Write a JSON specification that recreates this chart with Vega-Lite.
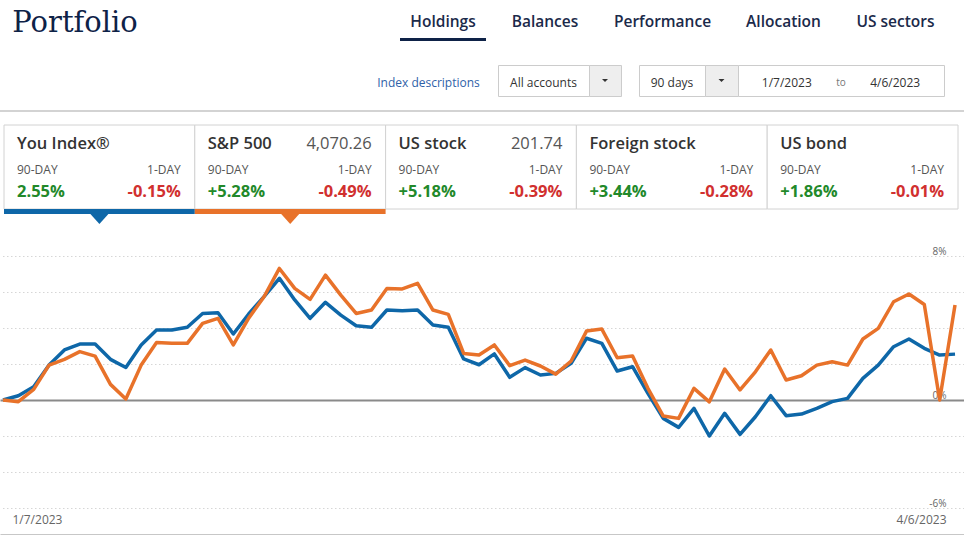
{
  "$schema": "https://vega.github.io/schema/vega-lite/v6.json",
  "padding": 0,
  "background": "white",
  "autosize": {"type": "pad"},
  "spacing": 0,
  "config": {
    "view": {"stroke": null},
    "concat": {"spacing": 0},
    "font": "Open Sans",
    "text": {"font": "Open Sans"},
    "axis": {"labelFont": "Open Sans"}
  },
  "datasets": {
    "cards": [
      {"card": "You Index®", "price": "", "d90": "2.55%", "d1": "-0.15%"},
      {"card": "S&P 500", "price": "4,070.26", "d90": "+5.28%", "d1": "-0.49%"},
      {"card": "US stock", "price": "201.74", "d90": "+5.18%", "d1": "-0.39%"},
      {"card": "Foreign stock", "price": "", "d90": "+3.44%", "d1": "-0.28%"},
      {"card": "US bond", "price": "", "d90": "+1.86%", "d1": "-0.01%"}
    ],
    "perf": [
      {"date": "1/7/2023", "you": 0, "sp": 0},
      {"date": "1/9/2023", "you": 0.24, "sp": -0.09},
      {"date": "1/10/2023", "you": 0.74, "sp": 0.59},
      {"date": "1/11/2023", "you": 1.94, "sp": 1.94},
      {"date": "1/12/2023", "you": 2.78, "sp": 2.26},
      {"date": "1/13/2023", "you": 3.11, "sp": 2.69},
      {"date": "1/17/2023", "you": 3.11, "sp": 2.44},
      {"date": "1/18/2023", "you": 2.26, "sp": 0.87},
      {"date": "1/19/2023", "you": 1.81, "sp": 0.06},
      {"date": "1/20/2023", "you": 3.06, "sp": 1.94},
      {"date": "1/23/2023", "you": 3.89, "sp": 3.19},
      {"date": "1/24/2023", "you": 3.89, "sp": 3.15},
      {"date": "1/25/2023", "you": 4.04, "sp": 3.15},
      {"date": "1/26/2023", "you": 4.81, "sp": 4.26},
      {"date": "1/27/2023", "you": 4.85, "sp": 4.54},
      {"date": "1/30/2023", "you": 3.67, "sp": 3.06},
      {"date": "1/31/2023", "you": 4.78, "sp": 4.55},
      {"date": "2/1/2023", "you": 5.74, "sp": 5.74},
      {"date": "2/2/2023", "you": 6.76, "sp": 7.31},
      {"date": "2/3/2023", "you": 5.56, "sp": 6.2},
      {"date": "2/6/2023", "you": 4.54, "sp": 5.59},
      {"date": "2/7/2023", "you": 5.43, "sp": 6.94},
      {"date": "2/8/2023", "you": 4.72, "sp": 5.83},
      {"date": "2/9/2023", "you": 4.13, "sp": 4.81},
      {"date": "2/10/2023", "you": 4.04, "sp": 5.0},
      {"date": "2/13/2023", "you": 5.0, "sp": 6.2},
      {"date": "2/14/2023", "you": 4.96, "sp": 6.17},
      {"date": "2/15/2023", "you": 5.0, "sp": 6.48},
      {"date": "2/16/2023", "you": 4.17, "sp": 5.0},
      {"date": "2/17/2023", "you": 4.04, "sp": 4.76},
      {"date": "2/21/2023", "you": 2.28, "sp": 2.59},
      {"date": "2/22/2023", "you": 1.96, "sp": 2.5},
      {"date": "2/23/2023", "you": 2.56, "sp": 3.06},
      {"date": "2/24/2023", "you": 1.26, "sp": 1.91},
      {"date": "2/27/2023", "you": 1.8, "sp": 2.22},
      {"date": "2/28/2023", "you": 1.39, "sp": 1.89},
      {"date": "3/1/2023", "you": 1.48, "sp": 1.44},
      {"date": "3/2/2023", "you": 2.04, "sp": 2.17},
      {"date": "3/3/2023", "you": 3.43, "sp": 3.83},
      {"date": "3/6/2023", "you": 3.15, "sp": 3.94},
      {"date": "3/7/2023", "you": 1.61, "sp": 2.35},
      {"date": "3/8/2023", "you": 1.85, "sp": 2.44},
      {"date": "3/9/2023", "you": 0.37, "sp": 0.65},
      {"date": "3/10/2023", "you": -1.02, "sp": -0.89},
      {"date": "3/13/2023", "you": -1.52, "sp": -1.02},
      {"date": "3/14/2023", "you": -0.46, "sp": 0.65},
      {"date": "3/15/2023", "you": -2.0, "sp": -0.1},
      {"date": "3/16/2023", "you": -0.74, "sp": 1.72},
      {"date": "3/17/2023", "you": -1.91, "sp": 0.56},
      {"date": "3/20/2023", "you": -0.93, "sp": 1.57},
      {"date": "3/21/2023", "you": 0.24, "sp": 2.78},
      {"date": "3/22/2023", "you": -0.87, "sp": 1.11},
      {"date": "3/23/2023", "you": -0.78, "sp": 1.35},
      {"date": "3/24/2023", "you": -0.46, "sp": 1.94},
      {"date": "3/27/2023", "you": -0.09, "sp": 2.13},
      {"date": "3/28/2023", "you": 0.09, "sp": 1.94},
      {"date": "3/29/2023", "you": 1.2, "sp": 3.39},
      {"date": "3/30/2023", "you": 1.94, "sp": 3.98},
      {"date": "3/31/2023", "you": 2.96, "sp": 5.46},
      {"date": "4/3/2023", "you": 3.39, "sp": 5.89},
      {"date": "4/4/2023", "you": 2.87, "sp": 5.31},
      {"date": "4/5/2023", "you": 2.5, "sp": 0},
      {"date": "4/6/2023", "you": 2.55, "sp": 5.28}
    ]
  },
  "vconcat": [
    {
      "spacing": 0, "bounds": "flush",
      "hconcat": [
        {"width": 150, "height": 38, "data": {"values": [{"t": "Portfolio"}]}, "mark": {"type": "text", "font": "DejaVu Serif", "fontSize": 29, "color": "#0e2247", "dy": 4}, "encoding": {"text": {"field": "t"}}},
        {"width": 250, "height": 38, "data": {"values": []}, "mark": "text", "encoding": {}},
        {"width": 86, "height": 38, "data": {"values": [{"t": "Holdings"}]}, "mark": {"type": "text", "fontSize": 15.5, "fontWeight": 600, "color": "#1b2a4a", "dy": 3}, "encoding": {"text": {"field": "t"}}},
        {"width": 118, "height": 38, "data": {"values": [{"t": "Balances"}]}, "mark": {"type": "text", "fontSize": 15.5, "fontWeight": 600, "color": "#1b2a4a", "dy": 3}, "encoding": {"text": {"field": "t"}}},
        {"width": 117, "height": 38, "data": {"values": [{"t": "Performance"}]}, "mark": {"type": "text", "fontSize": 15.5, "fontWeight": 600, "color": "#1b2a4a", "dy": 3}, "encoding": {"text": {"field": "t"}}},
        {"width": 125, "height": 38, "data": {"values": [{"t": "Allocation"}]}, "mark": {"type": "text", "fontSize": 15.5, "fontWeight": 600, "color": "#1b2a4a", "dy": 3}, "encoding": {"text": {"field": "t"}}},
        {"width": 99, "height": 38, "data": {"values": [{"t": "US sectors"}]}, "mark": {"type": "text", "fontSize": 15.5, "fontWeight": 600, "color": "#1b2a4a", "dy": 3}, "encoding": {"text": {"field": "t"}}}
      ]
    },
    {
      "spacing": 0, "bounds": "flush",
      "hconcat": [
        {"width": 400, "height": 3, "data": {"values": []}, "mark": "text", "encoding": {}},
        {"width": 86, "height": 3, "view": {"fill": "#0e2247", "stroke": null}, "data": {"values": []}, "mark": "text", "encoding": {}}
      ]
    },
    {"width": 964, "height": 23, "data": {"values": []}, "mark": "text", "encoding": {}},
    {
      "spacing": 0, "bounds": "flush",
      "hconcat": [
        {"width": 377, "height": 31, "data": {"values": []}, "mark": "text", "encoding": {}},
        {"width": 103, "height": 31, "data": {"values": [{"t": "Index descriptions"}]}, "mark": {"type": "text", "fontSize": 12, "color": "#2f62a8", "dy": 2}, "encoding": {"text": {"field": "t"}}},
        {"width": 18, "height": 31, "data": {"values": []}, "mark": "text", "encoding": {}},
        {"width": 91, "height": 31, "view": {"stroke": "#cccccc", "fill": "white"}, "data": {"values": [{"t": "All accounts"}]}, "mark": {"type": "text", "fontSize": 12, "color": "#333333", "dy": 2}, "encoding": {"text": {"field": "t"}}},
        {"width": 32, "height": 31, "view": {"stroke": "#cccccc", "fill": "#eeeeee"}, "data": {"values": [{"t": "v"}]}, "mark": {"type": "point", "shape": "M-1,-0.5L1,-0.5L0,0.5Z", "filled": true, "color": "#333333", "size": 36, "opacity": 1, "strokeWidth": 0}, "encoding": {}},
        {"width": 18, "height": 31, "data": {"values": []}, "mark": "text", "encoding": {}},
        {"width": 66, "height": 31, "view": {"stroke": "#cccccc", "fill": "white"}, "data": {"values": [{"t": "90 days"}]}, "mark": {"type": "text", "fontSize": 12, "color": "#333333", "dy": 2}, "encoding": {"text": {"field": "t"}}},
        {"width": 33, "height": 31, "view": {"stroke": "#cccccc", "fill": "#eeeeee"}, "data": {"values": [{"t": "v"}]}, "mark": {"type": "point", "shape": "M-1,-0.5L1,-0.5L0,0.5Z", "filled": true, "color": "#333333", "size": 36, "opacity": 1, "strokeWidth": 0}, "encoding": {}},
        {
          "width": 206, "height": 31, "view": {"stroke": "#cccccc", "fill": "white"},
          "data": {"values": [{"t": "1/7/2023"}, {"t": "to"}, {"t": "4/6/2023"}]},
          "mark": {"type": "text", "dy": 2},
          "encoding": {
            "x": {"field": "t", "type": "nominal", "sort": null, "scale": {"type": "point", "padding": 0.9}, "axis": null},
            "text": {"field": "t"},
            "size": {"condition": {"test": "datum.t === 'to'", "value": 10}, "value": 12},
            "color": {"condition": {"test": "datum.t === 'to'", "value": "#777777"}, "value": "#333333"}
          }
        }
      ]
    },
    {"width": 964, "height": 13, "data": {"values": []}, "mark": "text", "encoding": {}},
    {"width": 964, "height": 2, "view": {"fill": "#d3d3d3", "stroke": null}, "data": {"values": []}, "mark": "text", "encoding": {}},
    {"width": 964, "height": 12, "data": {"values": []}, "mark": "text", "encoding": {}},
    {
      "spacing": 0,
      "hconcat": [
        {"width": 3, "height": 99, "data": {"values": []}, "mark": "text", "encoding": {}},
        {
          "spacing": 0, "bounds": "flush",
          "vconcat": [
            {
              "width": 954, "height": 84,
              "data": {"name": "cards"},
              "layer": [
                {
                  "mark": {"type": "rect", "fill": "white", "stroke": "#d2d2d2", "strokeWidth": 1},
                  "encoding": {"x": {"field": "card", "type": "nominal", "sort": null, "scale": {"paddingInner": 0, "paddingOuter": 0}, "axis": null}}
                },
                {
                  "mark": {"type": "text", "align": "left", "dx": 13, "dy": 1.5, "fontSize": 16.5, "fontWeight": 600, "color": "#333333"},
                  "encoding": {
                    "x": {"field": "card", "type": "nominal", "sort": null, "bandPosition": 0, "axis": null},
                    "y": {"datum": "title", "type": "nominal", "scale": {"type": "point", "domain": ["title", "label", "value"], "padding": 0.74}, "axis": null},
                    "text": {"field": "card"}
                  }
                },
                {
                  "mark": {"type": "text", "align": "right", "dx": -14, "dy": 1.5, "fontSize": 16.5, "color": "#555555"},
                  "encoding": {
                    "x": {"field": "card", "type": "nominal", "sort": null, "bandPosition": 1, "axis": null},
                    "y": {"datum": "title", "type": "nominal"},
                    "text": {"field": "price"}
                  }
                },
                {
                  "mark": {"type": "text", "align": "left", "dx": 13, "dy": 2.5, "fontSize": 12, "color": "#555555"},
                  "encoding": {
                    "x": {"field": "card", "type": "nominal", "sort": null, "bandPosition": 0, "axis": null},
                    "y": {"datum": "label", "type": "nominal"},
                    "text": {"value": "90-DAY"}
                  }
                },
                {
                  "mark": {"type": "text", "align": "right", "dx": -14, "dy": 2.5, "fontSize": 12, "color": "#555555"},
                  "encoding": {
                    "x": {"field": "card", "type": "nominal", "sort": null, "bandPosition": 1, "axis": null},
                    "y": {"datum": "label", "type": "nominal"},
                    "text": {"value": "1-DAY"}
                  }
                },
                {
                  "mark": {"type": "text", "align": "left", "dx": 13, "dy": 1, "fontSize": 16.5, "fontWeight": "bold"},
                  "encoding": {
                    "x": {"field": "card", "type": "nominal", "sort": null, "bandPosition": 0, "axis": null},
                    "y": {"datum": "value", "type": "nominal"},
                    "text": {"field": "d90"},
                    "color": {"condition": {"test": "indexof(datum.d90, '-') === 0", "value": "#d1302f"}, "value": "#22892a"}
                  }
                },
                {
                  "mark": {"type": "text", "align": "right", "dx": -14, "dy": 1, "fontSize": 16.5, "fontWeight": "bold"},
                  "encoding": {
                    "x": {"field": "card", "type": "nominal", "sort": null, "bandPosition": 1, "axis": null},
                    "y": {"datum": "value", "type": "nominal"},
                    "text": {"field": "d1"},
                    "color": {"condition": {"test": "indexof(datum.d1, '-') === 0", "value": "#d1302f"}, "value": "#22892a"}
                  }
                }
              ]
            },
            {
              "width": 954, "height": 5,
              "data": {"name": "cards"},
              "transform": [{"filter": {"field": "card", "oneOf": ["You Index®", "S&P 500"]}}],
              "mark": {"type": "rect"},
              "encoding": {
                "x": {"field": "card", "type": "nominal", "scale": {"domain": ["You Index®", "S&P 500", "US stock", "Foreign stock", "US bond"], "paddingInner": 0, "paddingOuter": 0}, "axis": null},
                "color": {"field": "card", "type": "nominal", "scale": {"domain": ["You Index®", "S&P 500"], "range": ["#0e67a8", "#e8722a"]}, "legend": null}
              }
            },
            {
              "width": 954, "height": 10,
              "data": {"name": "cards"},
              "transform": [{"filter": {"field": "card", "oneOf": ["You Index®", "S&P 500"]}}],
              "mark": {"type": "point", "shape": "M-1,-0.55L1,-0.55L0,0.55Z", "filled": true, "size": 324, "opacity": 1, "strokeWidth": 0},
              "encoding": {
                "x": {"field": "card", "type": "nominal", "scale": {"domain": ["You Index®", "S&P 500", "US stock", "Foreign stock", "US bond"], "paddingInner": 0, "paddingOuter": 0}, "axis": null},
                "color": {"field": "card", "type": "nominal", "scale": {"domain": ["You Index®", "S&P 500"], "range": ["#0e67a8", "#e8722a"]}, "legend": null}
              }
            }
          ]
        }
      ]
    },
    {
      "width": 964, "height": 311,
      "data": {"name": "perf"},
      "transform": [{"fold": ["you", "sp"], "as": ["series", "value"]}],
      "mark": {"type": "line", "strokeWidth": 3.5, "strokeJoin": "round"},
      "encoding": {
        "x": {
          "field": "date", "type": "ordinal", "sort": null,
          "scale": {"type": "point", "padding": 0.39, "align": 0.25},
          "axis": {
            "values": ["1/7/2023", "4/6/2023"], "title": null, "ticks": false, "tickSize": 0, "grid": false,
            "domainColor": "#222222", "domainWidth": 1.5, "labelPadding": -16, "labelBaseline": "middle",
            "labelFontSize": 12, "labelColor": "#666666", "labelAngle": 0, "labelOverlap": false,
            "labelAlign": {"condition": {"test": "datum.value === '1/7/2023'", "value": "left"}, "value": "right"},
            "labelOffset": {"condition": {"test": "datum.value === '1/7/2023'", "value": 9}, "value": -9}
          }
        },
        "y": {
          "field": "value", "type": "quantitative",
          "scale": {"domain": [-7.5, 9.78], "nice": false, "zero": false},
          "axis": {
            "orient": "right", "values": [-6, -4, -2, 0, 2, 4, 6, 8], "title": null, "domain": false, "ticks": false, "tickSize": 0, "grid": true,
            "gridColor": {"condition": {"test": "datum.value === 0", "value": "#8a8a8a"}, "value": "#d6d6d6"},
            "gridWidth": {"condition": {"test": "datum.value === 0", "value": 2}, "value": 1},
            "gridDash": {"condition": {"test": "datum.value === 0", "value": []}, "value": [1.5, 2.5]},
            "labelExpr": "(datum.value === 8 || datum.value === 0 || datum.value === -6) ? datum.value + '%' : ''",
            "labelAlign": "right", "labelBaseline": "bottom", "labelPadding": -18, "labelFontSize": 10, "labelColor": "#666666", "labelOverlap": false
          }
        },
        "color": {"field": "series", "type": "nominal", "scale": {"domain": ["you", "sp"], "range": ["#0e67a8", "#e8722a"]}, "legend": null}
      }
    }
  ]
}
